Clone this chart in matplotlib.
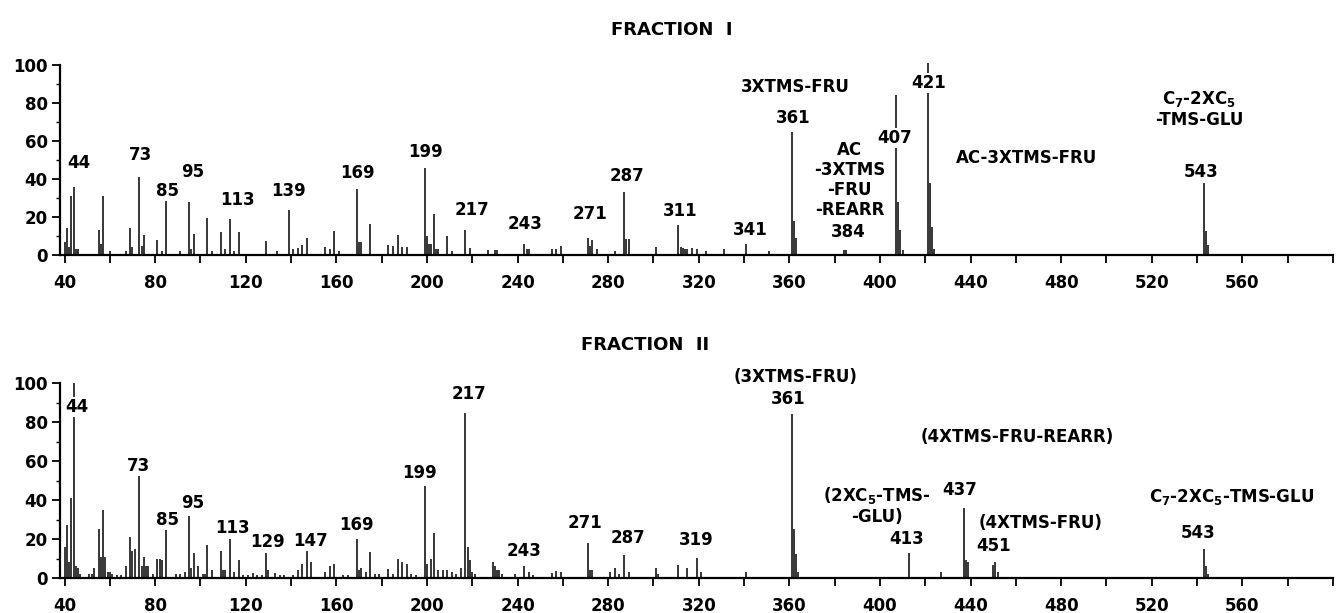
import matplotlib
matplotlib.use("Agg")
import matplotlib.pyplot as plt
from matplotlib.ticker import MultipleLocator

# Fraction I: m/z and relative intensity (%)
mz_f1 = [40, 41, 42, 43, 44, 45, 46, 55, 56, 57,
         60, 67, 69, 70, 73, 74, 75, 81, 83, 85,
         91, 95, 96, 97, 103, 105, 109, 111, 113, 115,
         117, 129, 134, 139, 141, 143, 145, 147, 155, 157,
         159, 161, 169, 170, 171, 175, 183, 185, 187, 189,
         191, 199, 200, 201, 202, 203, 204, 205, 209, 211,
         217, 219, 227, 230, 231, 243, 244, 245, 255, 257,
         259, 271, 272, 273, 275, 283, 287, 288, 289, 301,
         311, 312, 313, 314, 315, 317, 319, 323, 331, 341,
         351, 361, 362, 363, 384, 385, 407, 408, 409, 410,
         421, 422, 423, 424, 543, 544, 545]
int_f1 = [7, 14, 4, 31, 36, 3, 3, 13, 6, 31,
          2, 2, 14, 4, 41, 5, 10.5, 8, 2, 28.5,
          2, 28, 3, 11, 19.5, 2, 12, 3, 19, 2,
          12, 7.5, 2, 23.5, 3, 3.5, 5.5, 9, 4, 3,
          12.5, 2, 34.5, 7, 7, 16.5, 5.5, 5, 10.5, 4,
          4, 46, 10, 6, 6, 21.5, 3, 3, 10, 2,
          13, 3.5, 2.5, 2.5, 2.5, 6, 3, 3, 3, 3,
          4.5, 9, 4.5, 8, 3, 2, 33, 8.5, 8.5, 4,
          16, 4, 3.5, 3, 3, 3.5, 3, 2, 3, 6,
          2, 64.5, 18, 9, 2.5, 2.5, 84, 28, 13, 2.5,
          101, 38, 15, 3, 38, 12.5, 5.5]

# Fraction II
mz_f2 = [40, 41, 42, 43, 44, 45, 46, 47, 51, 52,
         53, 55, 56, 57, 58, 59, 60, 61, 63, 65,
         67, 69, 70, 71, 73, 74, 75, 76, 77, 79,
         81, 82, 83, 85, 89, 91, 93, 95, 96, 97,
         99, 101, 102, 103, 105, 109, 110, 111, 113, 115,
         117, 119, 121, 123, 125, 127, 129, 130, 133, 135,
         137, 141, 143, 145, 147, 149, 155, 157, 159, 163,
         165, 169, 170, 171, 173, 175, 177, 179, 183, 185,
         187, 189, 191, 193, 195, 199, 200, 202, 203, 205,
         207, 209, 211, 213, 215, 217, 218, 219, 220, 221,
         229, 230, 231, 232, 233, 239, 243, 245, 247, 255,
         257, 259, 271, 272, 273, 281, 283, 285, 287, 289,
         301, 302, 311, 315, 319, 321, 341, 361, 362, 363,
         364, 413, 427, 437, 438, 439, 450, 451, 452, 543,
         544, 545]
int_f2 = [16, 27, 8, 41, 100, 6, 5, 2, 2, 2,
          5, 25, 11, 35, 11, 3, 3, 2, 1.5, 1.5,
          6, 21, 14, 15, 53, 6, 11, 6, 6, 2,
          10, 9.5, 9, 25, 2, 2, 3, 32, 5, 13,
          6, 2, 2, 17, 4, 14, 4, 4, 20, 3,
          9, 1.5, 1.5, 2.5, 1.5, 1.5, 13, 4, 2.5, 1.5,
          1.5, 1.5, 4, 7, 14, 8, 3, 6, 7, 1.5,
          1.5, 20, 4, 5, 3, 13.5, 2, 2, 4.5, 2,
          9.5, 8, 7, 2, 1.5, 47, 7, 10, 23, 4,
          4, 4, 3, 2, 5, 84.5, 16, 9, 3, 2,
          8, 6, 4, 4, 2, 2, 6, 3, 1.5, 2.5,
          3.5, 3, 18, 4, 4, 3, 5, 2, 12, 3,
          5, 2, 6.5, 5, 10.5, 3, 3, 84, 25, 12.5,
          3, 13, 3, 36, 9, 8, 6.5, 8, 3, 15,
          6, 2]

# peak annotations: (text, m/z, intensity)
labels_f1 = [("44", 46.2, 48.4), ("73", 73.5, 52.6), ("85", 85.4, 33.7),
             ("95", 96.5, 43.7), ("113", 116.3, 29), ("139", 138.8, 33.7),
             ("169", 169.2, 43.2), ("199", 199.2, 54.2), ("217", 220, 23.7),
             ("243", 243.4, 16.3), ("271", 272, 21.6), ("287", 288.3, 41.6),
             ("311", 312, 23.2), ("341", 342.6, 13.2),
             ("3XTMS-FRU", 362.5, 88.4), ("361", 361.6, 72),
             ("AC\n-3XTMS\n-FRU\n-REARR", 386.7, 39.5), ("384", 385.8, 12.1),
             ("407", 406.6, 61.6), ("421", 421.6, 90.5),
             ("AC-3XTMS-FRU", 464.8, 51),
             ("C$_7$-2XC$_5$\n-TMS-GLU", 541, 76.8), ("543", 542, 43.7)]
labels_f2 = [("44", 45.4, 87.7), ("73", 72.5, 57.4), ("85", 85.6, 29.7),
             ("95", 96.6, 38.6), ("113", 114, 25.5), ("129", 129.5, 18.3),
             ("147", 148.5, 19), ("169", 169, 27.2), ("199", 196.8, 54),
             ("217", 218.7, 94.4), ("243", 242.8, 14), ("271", 269.6, 28),
             ("287", 288.9, 20.3), ("319", 318.8, 19.5),
             ("(3XTMS-FRU)", 362.7, 103.2), ("361", 359.5, 92),
             ("(4XTMS-FRU-REARR)", 460.5, 72.5),
             ("(2XC$_5$-TMS-\n-GLU)", 398.6, 37.4), ("437", 435, 45),
             ("413", 411.7, 19.8), ("(4XTMS-FRU)", 470.9, 28),
             ("451", 450, 16.6), ("C$_7$-2XC$_5$-TMS-GLU", 555, 41.7),
             ("543", 540.3, 22.9)]

plt.rcParams["font.family"] = "DejaVu Sans"
plt.rcParams["font.weight"] = "bold"
plt.rcParams["mathtext.default"] = "bf"

fig = plt.figure(figsize=(13.44, 6.13), dpi=100)
ax1 = fig.add_axes([60 / 1344, 1 - 255 / 613, 1273 / 1344, 190 / 613])
ax2 = fig.add_axes([60 / 1344, 1 - 578 / 613, 1273 / 1344, 195 / 613])


def spectrum(ax, mz, inten, labels):
    ax.vlines(mz, 0, inten, color="black", lw=1.1, clip_on=False)
    for txt, x, y in labels:
        ax.text(x, y, txt, ha="center", va="center", fontsize=12,
                fontweight="bold", linespacing=1.15,
                bbox=dict(facecolor="white", edgecolor="none", pad=0.5))
    ax.set_xlim(38, 600)
    ax.set_ylim(0, 100)
    for s in ("top", "right"):
        ax.spines[s].set_visible(False)
    for s in ("left", "bottom"):
        ax.spines[s].set_linewidth(1.6)
    ax.xaxis.set_minor_locator(MultipleLocator(20))
    ax.set_xticks(range(40, 561, 40))
    ax.yaxis.set_major_locator(MultipleLocator(20))
    ax.yaxis.set_minor_locator(MultipleLocator(10))
    ax.tick_params(axis="x", which="both", direction="out", length=6,
                   width=1.3, pad=8, labelsize=12)
    ax.tick_params(axis="y", which="major", direction="out", length=6,
                   width=1.3, pad=3, labelsize=12)
    ax.tick_params(axis="y", which="minor", direction="out", length=3,
                   width=1.0)
    for lab in ax.get_xticklabels() + ax.get_yticklabels():
        lab.set_fontweight("bold")


spectrum(ax1, mz_f1, int_f1, labels_f1)
spectrum(ax2, mz_f2, int_f2, labels_f2)

fig.text(0.5, 1 - 30 / 613, "FRACTION  I", ha="center", va="center",
         fontsize=13, fontweight="bold")
fig.text(645 / 1344, 1 - 345 / 613, "FRACTION  II", ha="center",
         va="center", fontsize=13, fontweight="bold")

fig.savefig("out.png", dpi=100)
